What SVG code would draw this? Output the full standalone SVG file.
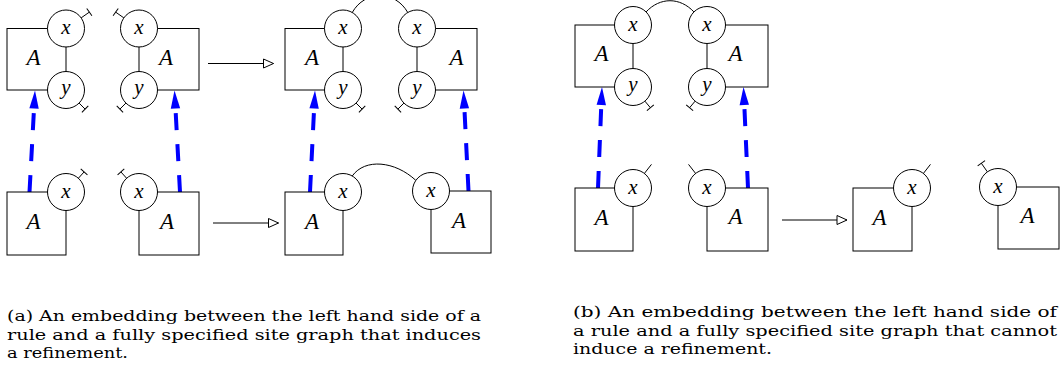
<svg xmlns="http://www.w3.org/2000/svg" width="1064" height="371" viewBox="0 0 1064 371">
<style>
.box{fill:#fff;stroke:#000;stroke-width:1}
.site{fill:#fff;stroke:#000;stroke-width:1}
.stub{stroke:#000;stroke-width:1;marker-end:url(#bar)}
.free{stroke:#000;stroke-width:1}
.bond{fill:none;stroke:#000;stroke-width:1}
.emb{fill:none;stroke:#0000ff;stroke-width:4;stroke-dasharray:17 14;marker-end:url(#bh)}
.arr{stroke:#000;stroke-width:1;marker-end:url(#oa)}
.lbl{font-family:"Liberation Serif","Times New Roman",serif;font-style:italic;font-size:23px;text-anchor:middle}
.st{font-family:"Liberation Serif","Times New Roman",serif;font-style:italic;font-size:21px;text-anchor:middle}
.cap{font-family:"DejaVu Serif","Liberation Serif",serif;font-size:15.6px}
</style>
<defs>
<marker id="bar" markerUnits="userSpaceOnUse" viewBox="-1 -6 2 12" markerWidth="2" markerHeight="12" refX="0" refY="0" orient="auto" style="overflow:visible"><path d="M0 -4.5 V4.5" stroke="#000" stroke-width="1"/></marker>
<marker id="oa" markerUnits="userSpaceOnUse" viewBox="-11 -6 12 12" markerWidth="12" markerHeight="12" refX="0" refY="0" orient="auto" style="overflow:visible"><path d="M-10 -4.5 L0 0 L-10 4.5 Z" fill="#fff" stroke="#000" stroke-width="1"/></marker>
<marker id="bh" markerUnits="userSpaceOnUse" viewBox="0 -5 18 10" markerWidth="18" markerHeight="10" refX="0" refY="0" orient="auto" style="overflow:visible"><path d="M0 -4.7 L18 0 L0 4.7 Z" fill="#0000ff"/></marker>
</defs>

<g id="connectors">
<path class="bond" d="M352.25 12.48 C365 -10 395 -10 407.75 12.48"/>
<path class="bond" d="M352.25 175.98 C365 158 395 161 415.85 180.38"/>
<path class="bond" d="M646.08 11.92 C660 -3 680 -3 693.92 11.92"/>
<line class="arr" x1="208" y1="63.5" x2="273.5" y2="63.5"/>
<line class="arr" x1="213" y1="223" x2="278.5" y2="223"/>
<line class="arr" x1="782" y1="220" x2="847" y2="220"/>
<line class="emb" x1="29.5" y1="192" x2="34.03" y2="108.47"/>
<line class="emb" x1="180" y1="192" x2="175.47" y2="108.47"/>
<line class="emb" x1="310" y1="192" x2="314.11" y2="108.47"/>
<line class="emb" x1="468.5" y1="191" x2="464.4" y2="108.48"/>
<line class="emb" x1="598" y1="188" x2="601.29" y2="104.99"/>
<line class="emb" x1="748" y1="188" x2="744.3" y2="104.98"/>
</g>

<g id="a-lhs-left">
<rect class="box" x="7" y="28.5" width="59" height="61.5"/>
<line class="stub" x1="81.15" y1="17.88" x2="89.34" y2="12.14"/>
<line class="stub" x1="79.08" y1="103.08" x2="85.09" y2="109.09"/>
<circle class="site" cx="66" cy="28.5" r="18.5"/>
<circle class="site" cx="66" cy="90" r="18.5"/>
<text class="lbl" x="33.5" y="65">A</text>
<text class="st" x="66" y="34">x</text>
<text class="st" x="66" y="93.5">y</text>
</g>
<g id="a-lhs-right">
<rect class="box" x="139" y="28.5" width="60" height="61.5"/>
<line class="stub" x1="123.85" y1="17.88" x2="115.66" y2="12.14"/>
<line class="stub" x1="125.92" y1="103.08" x2="119.91" y2="109.09"/>
<circle class="site" cx="139" cy="28.5" r="18.5"/>
<circle class="site" cx="139" cy="90" r="18.5"/>
<text class="lbl" x="166" y="65">A</text>
<text class="st" x="139" y="34">x</text>
<text class="st" x="139" y="93.5">y</text>
</g>
<g id="a-host-left">
<rect class="box" x="7" y="192" width="59" height="63"/>
<line class="stub" x1="78.38" y1="178.25" x2="84.07" y2="171.94"/>
<circle class="site" cx="66" cy="192" r="18.5"/>
<text class="lbl" x="33.5" y="229">A</text>
<text class="st" x="66" y="197.5">x</text>
</g>
<g id="a-host-right">
<rect class="box" x="139" y="192" width="60" height="63"/>
<line class="stub" x1="126.62" y1="178.25" x2="120.93" y2="171.94"/>
<circle class="site" cx="139" cy="192" r="18.5"/>
<text class="lbl" x="167" y="228.5">A</text>
<text class="st" x="139" y="197.5">x</text>
</g>
<g id="a-rhs-left">
<rect class="box" x="285" y="28.5" width="58" height="61.5"/>
<line class="stub" x1="356.08" y1="103.08" x2="362.09" y2="109.09"/>
<circle class="site" cx="343" cy="28.5" r="18.5"/>
<circle class="site" cx="343" cy="90" r="18.5"/>
<text class="lbl" x="312" y="65">A</text>
<text class="st" x="343" y="34">x</text>
<text class="st" x="343" y="93.5">y</text>
</g>
<g id="a-rhs-right">
<rect class="box" x="417" y="28.5" width="60" height="61.5"/>
<line class="stub" x1="403.92" y1="103.08" x2="397.91" y2="109.09"/>
<circle class="site" cx="417" cy="28.5" r="18.5"/>
<circle class="site" cx="417" cy="90" r="18.5"/>
<text class="lbl" x="456.5" y="65">A</text>
<text class="st" x="417" y="34">x</text>
<text class="st" x="417" y="93.5">y</text>
</g>
<g id="a-result-left">
<rect class="box" x="285" y="192" width="58" height="63"/>
<circle class="site" cx="343" cy="192" r="18.5"/>
<text class="lbl" x="312" y="229">A</text>
<text class="st" x="343" y="197.5">x</text>
</g>
<g id="a-result-right">
<rect class="box" x="431" y="191" width="60" height="62"/>
<circle class="site" cx="431" cy="191" r="18.5"/>
<text class="lbl" x="459" y="227.5">A</text>
<text class="st" x="431" y="196.5">x</text>
</g>

<g id="b-lhs-left">
<rect class="box" x="575" y="25" width="58" height="62"/>
<line class="stub" x1="644.9" y1="101.17" x2="650.36" y2="107.68"/>
<circle class="site" cx="633" cy="25" r="18.5"/>
<circle class="site" cx="633" cy="87" r="18.5"/>
<text class="lbl" x="601.5" y="61">A</text>
<text class="st" x="633" y="30.5">x</text>
<text class="st" x="633" y="90.5">y</text>
</g>
<g id="b-lhs-right">
<rect class="box" x="707" y="25" width="61" height="62"/>
<line class="stub" x1="695.1" y1="101.17" x2="689.64" y2="107.68"/>
<circle class="site" cx="707" cy="25" r="18.5"/>
<circle class="site" cx="707" cy="87" r="18.5"/>
<text class="lbl" x="735.5" y="61">A</text>
<text class="st" x="707" y="30.5">x</text>
<text class="st" x="707" y="90.5">y</text>
</g>
<g id="b-host-left">
<rect class="box" x="575" y="188" width="58" height="63"/>
<line class="free" x1="644.4" y1="173.42" x2="651.48" y2="164.36"/>
<circle class="site" cx="633" cy="188" r="18.5"/>
<text class="lbl" x="601.5" y="225">A</text>
<text class="st" x="633" y="193.5">x</text>
</g>
<g id="b-host-right">
<rect class="box" x="707" y="188" width="61" height="63"/>
<line class="free" x1="695.6" y1="173.42" x2="688.52" y2="164.36"/>
<circle class="site" cx="707" cy="188" r="18.5"/>
<text class="lbl" x="735.5" y="224">A</text>
<text class="st" x="707" y="193.5">x</text>
</g>
<g id="b-result-left">
<rect class="box" x="853" y="188" width="59" height="63"/>
<line class="free" x1="923.4" y1="173.42" x2="930.48" y2="164.36"/>
<circle class="site" cx="912" cy="188" r="18.5"/>
<text class="lbl" x="879.5" y="225">A</text>
<text class="st" x="912" y="193.5">x</text>
</g>
<g id="b-result-right">
<rect class="box" x="998" y="187" width="61" height="62"/>
<line class="stub" x1="987.38" y1="171.85" x2="981.35" y2="163.25"/>
<circle class="site" cx="998" cy="187" r="18.5"/>
<text class="lbl" x="1027.5" y="223">A</text>
<text class="st" x="998" y="192.5">x</text>
</g>

<g id="captions">
<text class="cap" x="7" y="321" textLength="474" lengthAdjust="spacingAndGlyphs">(a)  An embedding between the left hand side of a</text>
<text class="cap" x="7" y="339.5" textLength="474" lengthAdjust="spacingAndGlyphs">rule and a fully specified site graph that induces</text>
<text class="cap" x="7" y="358" textLength="121" lengthAdjust="spacingAndGlyphs">a refinement.</text>
<text class="cap" x="573" y="317" textLength="484" lengthAdjust="spacingAndGlyphs">(b)  An embedding between the left hand side of</text>
<text class="cap" x="573" y="335.5" textLength="484" lengthAdjust="spacingAndGlyphs">a rule and a fully specified site graph that cannot</text>
<text class="cap" x="573" y="354" textLength="199" lengthAdjust="spacingAndGlyphs">induce a refinement.</text>
</g>
</svg>
